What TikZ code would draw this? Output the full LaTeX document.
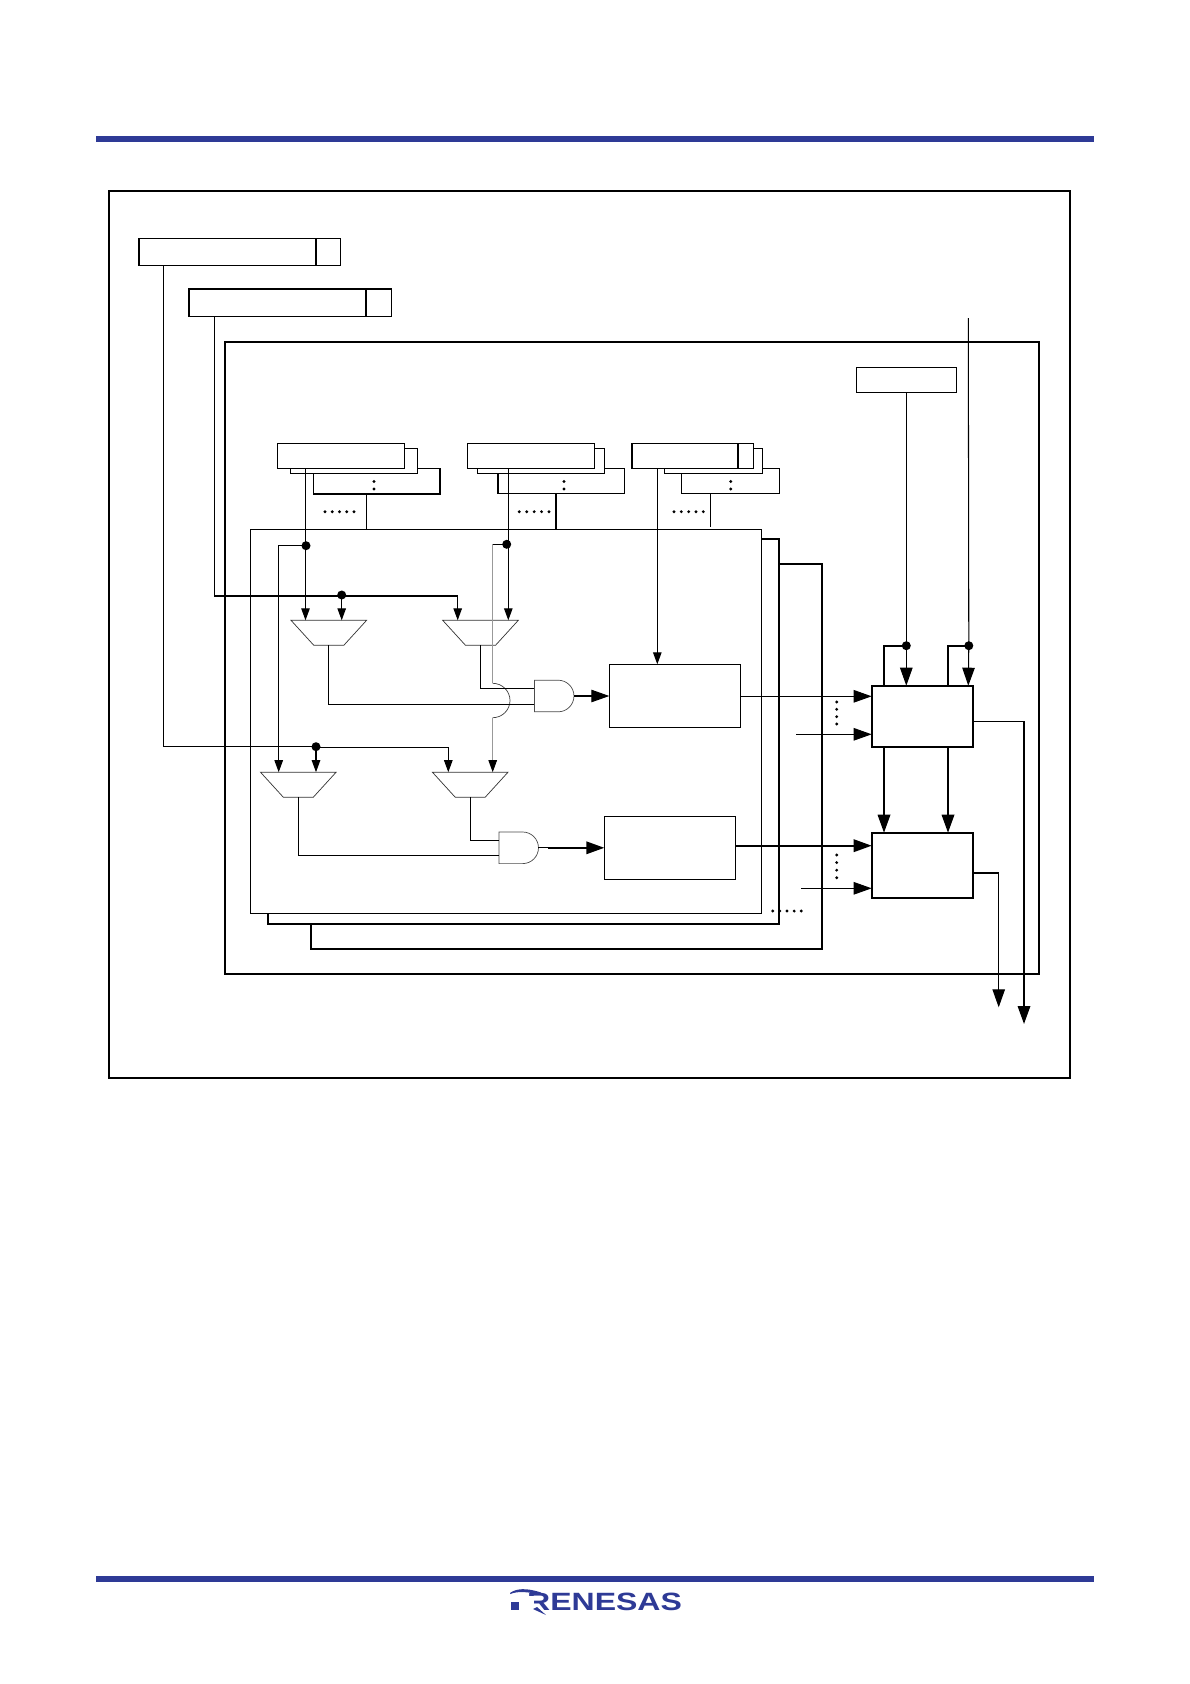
\documentclass[tikz,border=0pt]{standalone}
\usepackage{fontspec}
\usepackage{graphicx}
\setmainfont{Liberation Sans}
\usetikzlibrary{arrows.meta,shapes.geometric,shapes.gates.logic.US}
\definecolor{rblue}{RGB}{46,58,150}
\tikzset{
  rg/.style={draw=black,fill=white,rectangle,inner sep=0pt,outer sep=0pt,line width=1.3pt},
  hv/.style={line width=2pt},
  md/.style={line width=1.8pt},
  wire/.style={line width=1.05pt,black},
  gwire/.style={line width=0.9pt,black!40},
  sa/.style={-{Triangle[length=12pt,width=8.5pt,black]}},
  la/.style={-{Triangle[length=18pt,width=12.5pt]}},
  jdot/.style={circle,fill=black,inner sep=0pt,minimum size=9pt,outer sep=0pt},
  mux/.style={draw=black!80,line width=0.7pt,fill=white,trapezium,trapezium stretches=true,trapezium left angle=52.8,trapezium right angle=52.8,shape border rotate=180,inner sep=1pt,outer sep=0pt,minimum width=75.6pt,minimum height=25pt},
  gate/.style={and gate US,logic gate inputs=nn,draw=black!70,line width=0.7pt,fill=white,inner sep=1pt,outer sep=0pt,minimum width=39.5pt,minimum height=31pt},
}
\newcommand\mybox[6]{%
  \pgfmathsetmacro\mbw{#5-#3}\pgfmathsetmacro\mbh{#6-#4}%
  \node[rg,#1,minimum width=\mbw pt,minimum height=\mbh pt] (#2) at ({(#3+#5)/2},{(#4+#6)/2}) {};}
\newcommand\rowdots[3]{\foreach \k in {0,1,2,3,4}{\fill ({#1+\k*(#2-#1)/4},#3) circle (1.6pt);}}
\newcommand\coldots[3]{\foreach \k in {0,1,2,3}{\fill (#1,{#2+\k*(#3-#2)/3}) circle (1.6pt);}}
\newcommand\colondots[1]{\fill (#1,481.5) circle (1.7pt); \fill (#1,489) circle (1.7pt);}
\begin{document}
\begin{tikzpicture}[x=1pt,y=-1pt]
\useasboundingbox (0,0) rectangle (1190,1684);
% page bars
\fill[rblue] (96,136) rectangle (1094,142);
\fill[rblue] (96,1576) rectangle (1094,1582);
% logo
\node[anchor=base west,inner sep=0pt,text=rblue] (logo) at (527,1610) {\fontsize{25}{25}\selectfont\bfseries\scalebox{1.28}[1]{RENESAS}};
\fill[white] (527.5,1595.5) rectangle (533.8,1611);
\fill[rblue] (511,1602) rectangle (519,1609.5);
\fill[rblue] (510,1593) .. controls (516,1588.5) and (526,1587.5) .. (541,1592.5) -- (541,1595) .. controls (528,1591.5) and (517,1591) .. (510.5,1594) -- cycle;
\fill[rblue] (537,1607) -- (546,1615) -- (533,1609) -- cycle;
% frames
\mybox{hv}{outer}{109}{191}{1070}{1078}
\mybox{}{regA}{139}{238.5}{340.7}{265.7}
\mybox{}{regB}{189}{289}{391.3}{316.3}
\draw[line width=1.3pt] (316,238.5) coordinate (dA) -- (dA |- regA.south);
\draw[line width=1.3pt] (366,289) coordinate (dB) -- (dB |- regB.south);
\mybox{hv}{chan}{225}{341.7}{1039}{974}
\mybox{}{cfg}{856.3}{367.3}{956.7}{392.3}
% stack 1
\mybox{}{s1c}{313.3}{468.3}{440}{494}
\mybox{}{s1b}{290.7}{448.3}{417.3}{473.3}
\mybox{}{s1a}{277.7}{443.3}{404.3}{468.3}
% stack 2
\mybox{}{s2c}{498}{468.3}{624.3}{493.5}
\mybox{}{s2b}{477.3}{448.3}{604.7}{473.3}
\mybox{}{s2a}{467.5}{443.3}{594.3}{468.3}
% stack 3
\mybox{}{s3c}{681.3}{468.3}{779.3}{493.5}
\mybox{}{s3b}{664.3}{448.3}{762.3}{473.3}
\mybox{}{s3a}{632}{443.3}{753.7}{468.3}
\draw[line width=1.3pt] (738,443.3) coordinate (dC) -- (dC |- s3a.south);
\colondots{374}\colondots{564}\colondots{730.7}
\rowdots{325}{354}{511.7}\rowdots{519.3}{549}{511.7}\rowdots{674}{703.3}{511.7}
% panels
\mybox{md}{p3}{311}{564.3}{822}{949}
\mybox{md}{p2}{268}{539.3}{779}{924}
\mybox{}{p1}{250.3}{529.3}{761.3}{913.3}
\coordinate (c1) at (366.3,0); \coordinate (c2) at (556,0); \coordinate (c3) at (710.3,0);
\draw[wire] (c1 |- s1c.south) -- (c1 |- p1.north);
\draw[md] (c2 |- s2c.south) -- (c2 |- p1.north);
\draw[wire] (c3 |- s3c.south) -- (710.3,527);
% inner blocks
\mybox{}{E}{609.3}{664.3}{740.3}{727.7}
\mybox{line width=1pt}{F}{604.3}{816.3}{735.3}{879.3}
\mybox{md}{G}{871.7}{685.7}{973.3}{746.7}
\mybox{md}{H}{871.7}{832.7}{973.3}{898.3}
% muxes
\node[mux] (m1) at (328.8,632.8) {};
\node[mux] (m2) at (480.5,632.8) {};
\node[mux] (m3) at (298.3,784.7) {};
\node[mux] (m4) at (470.2,784.7) {};
% gates
\node[gate] (g1) at (552.9,696) {};
\node[gate] (g2) at (517.4,847.8) {};
\coordinate (g1a) at ([yshift=7.7pt]g1.west); \coordinate (g1b) at ([yshift=-8.3pt]g1.west);
\coordinate (g2a) at ([yshift=7.5pt]g2.west); \coordinate (g2b) at ([yshift=-7.5pt]g2.west);
% x positions
\coordinate (xA) at (163.3,0); \coordinate (xB) at (214.3,0);
\coordinate (x1) at (305.5,0); \coordinate (x1b) at (341.7,0); \coordinate (x2a) at (457.7,0); \coordinate (x2b) at (508.3,0);
\coordinate (x3) at (278.7,0); \coordinate (x3b) at (316,0); \coordinate (x4a) at (448.3,0); \coordinate (x4b) at (492.7,0);
\coordinate (xS3) at (657.3,0); \coordinate (xL) at (884,0); \coordinate (xR) at (948,0); \coordinate (xM) at (906.3,0); \coordinate (xT) at (968.3,0);
% junctions
\node[jdot] (j1) at (306,545.7) {};
\node[jdot] (j2) at (506.7,544.3) {};
\node[jdot] (j3) at (341.7,595) {};
\node[jdot] (j4) at (316,746.7) {};
\node[jdot] (j5) at (906.3,645.7) {};
\node[jdot] (j6) at (968.8,645.7) {};
% select buses
\draw[wire] (xB |- regB.south) -- (214.3,596) -- (j3.center |- 0,596);
\draw[wire,sa] (j3.center |- 0,596) -- (457.7,596) -- (x2a |- m2.north);
\draw[wire,sa] (j3.center) -- (j3 |- m1.north);
\draw[wire] (xA |- regA.south) -- (163.3,746.5) -- (j4.center |- 0,746.5);
\draw[wire,sa] (j4.center |- 0,747.5) -- (448.3,747.5) -- (x4a |- m4.north);
\draw[wire,sa] (j4.center) -- (j4 |- m3.north);
% data from registers
\draw[wire,sa] (x1 |- s1a.south) -- (x1 |- m1.north);
\draw[wire,sa] (j1.center) -- (x3 |- j1) -- (x3 |- m3.north);
\draw[wire,sa] (x2b |- s2a.south) -- (x2b |- m2.north);
\draw[wire] (j2.center) -- (x4b |- j2);
\draw[gwire] (x4b |- j2) -- (492.7,683.3) coordinate (bt);
\draw[line width=0.7pt,black!75] (bt) arc[start angle=90,end angle=-90,x radius=17.3pt,y radius=17.2pt] coordinate (bb);
\draw[gwire,sa] (bb) -- (x4b |- m4.north);
\draw[wire,sa] (xS3 |- s3a.south) -- (xS3 |- E.north);
% mux outputs to gates
\draw[wire] (m2.south) -- (m2.south |- g1a) -- (g1a);
\draw[wire] (m1.south) -- (m1.south |- g1b) -- (g1b);
\draw[wire] (m4.south) -- (m4.south |- g2a) -- (g2a);
\draw[wire] (m3.south) -- (m3.south |- g2b) -- (g2b);
\draw[wire,la] (g1.output) -- (g1.output -| E.west);
\draw[wire] (g2.output) -- ([xshift=10pt]g2.output) coordinate (g2o);
\draw[md,la] (g2o) -- (g2o -| F.west);
% block outputs
\draw[wire,la] (E.east |- 0,696.3) -- (G.west |- 0,696.3);
\draw[wire,la] (796,734.3) coordinate (inG) -- (inG -| G.west);
\draw[md,la] (F.east |- 0,845.7) -- (H.west |- 0,845.7);
\draw[wire,la] (801,888.3) coordinate (inH) -- (inH -| H.west);
\coldots{836.7}{702}{724}\coldots{836.7}{855}{877.7}
\rowdots{772.7}{801.3}{911}
% top of G
\draw[wire] (xM |- cfg.south) -- (j5.center);
\draw[wire,la] (j5.center) -- (xM |- G.north);
\draw[wire] (968.3,318) coordinate (ext) -- (j6.center);
\draw[wire,la] (j6.center) -- (xT |- G.north);
\draw[md] (j5.center) -- (xL |- j5) -- (xL |- G.north);
\draw[md] (j6.center) -- (xR |- j6) -- (xR |- G.north);
% G to H
\draw[md,la] (xL |- G.south) -- (xL |- H.north);
\draw[md,la] (xR |- G.south) -- (xR |- H.north);
% outputs
\draw[wire] (G.east |- 0,721.3) -- (1024,721.3) coordinate (gc);
\draw[md,la] (gc) -- (1024,1024);
\draw[wire,la] (H.east |- 0,873) -- (998.7,873) -- (998.7,1007.3);
\end{tikzpicture}
\end{document}
